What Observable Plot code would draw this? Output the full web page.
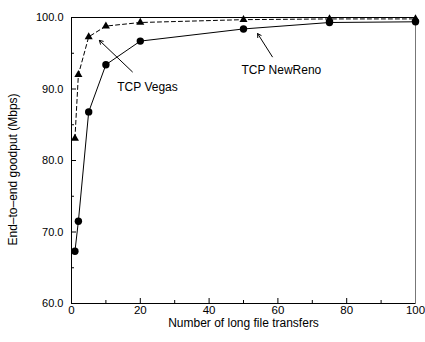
<!DOCTYPE html>
<html><head><meta charset="utf-8">
<script src="https://cdn.jsdelivr.net/npm/d3@7"></script>
<script src="https://cdn.jsdelivr.net/npm/@observablehq/plot@0.6"></script>
<style>body{margin:0;background:#fff;} svg{font-family:Arial,"Liberation Sans",Helvetica,sans-serif;}</style>
</head><body><div id="chart"></div>
<script>
const transfers = [1, 2, 5, 10, 20, 50, 75, 100];
const newReno = [67.3, 71.5, 86.8, 93.4, 96.7, 98.4, 99.3, 99.4];
const vegas = [83.1, 92.0, 97.3, 98.8, 99.3, 99.7, 99.8, 99.8];
const xTicks = [0, 20, 40, 60, 80, 100];
const xMinor = [10, 30, 50, 70, 90];
const yTicks = [60, 70, 80, 90, 100];
const yMinor = [65, 75, 85, 95];
const xLabel = ["Number of long file transfers"];
const yLabel = ["End\u2013to\u2013end goodput (Mbps)"];
const labels = [
  {text: "TCP Vegas", x: 22.1, y: 90.3, ax1: 17.7, ay1: 92.4, ax2: 8.1, ay2: 96.8},
  {text: "TCP NewReno", x: 61.0, y: 92.7, ax1: 58.4, ay1: 94.5, ax2: 54.1, ay2: 97.75}
];
const nr = transfers.map((x, i) => ({x, y: newReno[i]}));
const vg = transfers.map((x, i) => ({x, y: vegas[i]}));

const chart = Plot.plot({
  width: 425, height: 342,
  marginLeft: 71, marginRight: 10, marginTop: 17, marginBottom: 39,
  style: {fontSize: "11px", fontFamily: "Arial, 'Liberation Sans', sans-serif", color: "#000"},
  x: {domain: [0, 100]},
  y: {domain: [60, 100]},
  marks: [
    Plot.axisX({ticks: xTicks, tickSize: -5, tickPadding: 7, tickFormat: d => d, label: null, fontSize: 11.5}),
    Plot.axisX({ticks: xMinor, tickSize: -3, text: null, label: null}),
    Plot.axisY({ticks: yTicks, tickSize: -5, tickPadding: 13, tickFormat: d => d.toFixed(1), label: null, fontSize: 11}),
    Plot.axisY({ticks: yMinor, tickSize: -3, text: null, label: null}),
    Plot.text(xLabel, {frameAnchor: "bottom", lineAnchor: "middle", textAnchor: "middle", dy: 20, fontSize: 12, fill: "#000"}),
    Plot.text(yLabel, {frameAnchor: "left", lineAnchor: "middle", textAnchor: "middle", rotate: -90, dx: -58, dy: 9, fontSize: 12, fill: "#000"}),
    Plot.frame({anchor: "top", stroke: "#000"}),
    Plot.frame({anchor: "left", stroke: "#000"}),
    Plot.frame({anchor: "bottom", stroke: "#000"}),
    Plot.frame({anchor: "right", stroke: "#777"}),
    Plot.line(vg, {x: "x", y: "y", stroke: "#000", strokeWidth: 1, strokeDasharray: "4,3"}),
    Plot.dot(vg, {x: "x", y: "y", symbol: "triangle", fill: "#000", r: 3}),
    Plot.line(nr, {x: "x", y: "y", stroke: "#000", strokeWidth: 1}),
    Plot.dot(nr, {x: "x", y: "y", fill: "#000", r: 3.7}),
    Plot.arrow(labels, {x1: "ax1", y1: "ay1", x2: "ax2", y2: "ay2", stroke: "#000", strokeWidth: 1, headLength: 6, bend: 0}),
    Plot.text(labels, {x: "x", y: "y", text: "text", fontSize: 12, fill: "#000"})
  ]
});
document.getElementById("chart").appendChild(chart);
</script></body></html>
